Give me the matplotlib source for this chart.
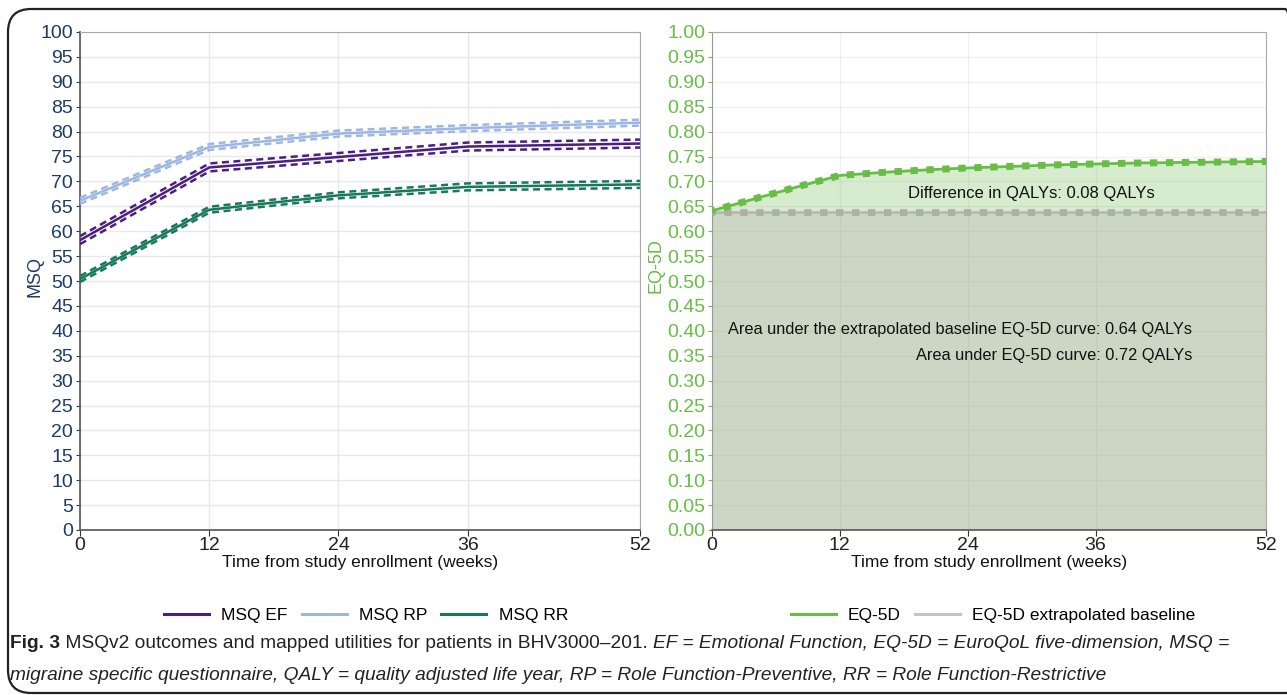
import matplotlib
matplotlib.use("Agg")
import matplotlib.pyplot as plt
from matplotlib.patches import FancyBboxPatch
from matplotlib.lines import Line2D

plt.rcParams['font.family'] = ['Liberation Sans', 'DejaVu Sans']

# MSQ data (weeks)
weeks = [0, 12, 24, 36, 52]
ef_mean = [58.2, 72.8, 74.9, 77.0, 77.6]
ef_hi = [59.0, 73.6, 75.7, 77.8, 78.4]
ef_lo = [57.4, 72.0, 74.1, 76.2, 76.8]
rp_mean = [66.1, 76.9, 79.6, 80.7, 81.8]
rp_hi = [66.7, 77.5, 80.2, 81.3, 82.4]
rp_lo = [65.5, 76.3, 79.0, 80.1, 81.2]
rr_mean = [50.4, 64.3, 67.2, 68.9, 69.4]
rr_hi = [51.0, 64.9, 67.8, 69.6, 70.1]
rr_lo = [49.8, 63.7, 66.6, 68.2, 68.7]

# EQ-5D data
eq_weeks = [0, 4, 8, 12, 16, 20, 24, 28, 32, 36, 40, 44, 48, 52]
eq_vals = [0.641, 0.665, 0.689, 0.712, 0.718, 0.723, 0.727, 0.730, 0.733,
           0.735, 0.737, 0.738, 0.739, 0.740]
baseline = 0.639

c_ef = "#4a1f80"
c_rp = "#9db7e4"
c_rr = "#17785a"
c_eq = "#67bd45"
c_base = "#c4c4c4"
navy = "#1f3a68"

fig = plt.figure(figsize=(12.87, 6.95), dpi=100)

# rounded frame
frame = FancyBboxPatch((8 / 1287, 2 / 695), 1300 / 1287, 684 / 695,
                       boxstyle="round,pad=0,rounding_size=0.018",
                       transform=fig.transFigure, fill=False,
                       edgecolor="#222222", linewidth=1.6,
                       mutation_aspect=1287 / 695)
fig.patches.append(frame)

ax1 = fig.add_axes([80 / 1287, 165 / 695, 560 / 1287, 498 / 695])
ax2 = fig.add_axes([712 / 1287, 165 / 695, 554 / 1287, 498 / 695])

for ax in (ax1, ax2):
    ax.set_xlim(0, 52)
    ax.set_xticks(weeks)
    ax.grid(True, color="#e8e8e8", linewidth=1.0)
    ax.set_axisbelow('line')
    ax.tick_params(axis='x', labelsize=14, colors="#333333", length=4,
                   labelcolor="#222222", pad=1)
    ax.tick_params(axis='y', labelsize=14, length=3, pad=2)
    ax.set_xlabel("Time from study enrollment (weeks)", fontsize=12.5,
                  color="#111111", labelpad=1)
    for s in ('top', 'right'):
        ax.spines[s].set_color("#aaaaaa")
    ax.spines['bottom'].set_color("#555555")
    ax.spines['bottom'].set_linewidth(1.2)

# left panel
ax1.set_ylim(0, 100)
ax1.set_yticks(range(0, 101, 5))
ax1.tick_params(axis='y', colors=navy, labelcolor=navy)
ax1.spines['left'].set_color("#555555")
ax1.spines['left'].set_linewidth(1.2)
ax1.set_ylabel("MSQ", fontsize=13, color=navy)
ax1.yaxis.set_label_coords(-0.066, 0.51)

dash = (0, (2.8, 1.8))
for mean, hi, lo, c in ((ef_mean, ef_hi, ef_lo, c_ef),
                        (rp_mean, rp_hi, rp_lo, c_rp),
                        (rr_mean, rr_hi, rr_lo, c_rr)):
    ax1.plot(weeks, mean, color=c, lw=1.8, zorder=3)
    ax1.plot(weeks, hi, color=c, lw=1.8, ls=dash, zorder=3)
    ax1.plot(weeks, lo, color=c, lw=1.8, ls=dash, zorder=3)

# right panel
ax2.set_ylim(0, 1)
ax2.set_yticks([i / 20 for i in range(21)])
ax2.set_yticklabels([f"{i / 20:.2f}" for i in range(21)])
ax2.tick_params(axis='y', colors=c_eq, labelcolor=c_eq)
ax2.spines['left'].set_color("#999999")
ax2.set_ylabel("EQ-5D", fontsize=13, color=c_eq)
ax2.yaxis.set_label_coords(-0.086, 0.53)

base_vals = [baseline] * len(eq_weeks)
ax2.fill_between(eq_weeks, base_vals, eq_vals, color="#d7ecce", lw=0, zorder=0.5)
ax2.fill_between(eq_weeks, 0, base_vals, color="#cbd7c4", lw=0, zorder=0.5)
ax2.grid(True, color="#8a9a80", alpha=0.12, linewidth=1.0)

ax2.plot(eq_weeks, base_vals, color="#b4bcad", lw=2, zorder=3)
ax2.plot(eq_weeks, base_vals, color="#aab2a4", lw=5, ls=(0.6, (1.05, 1.25)),
         zorder=3)
ax2.plot(eq_weeks, eq_vals, color=c_eq, lw=2, zorder=4)
ax2.plot(eq_weeks, eq_vals, color=c_eq, lw=5, ls=(0.6, (1.05, 1.25)), zorder=4)

ax2.text(30, 0.675, "Difference in QALYs: 0.08 QALYs", ha='center',
         va='center', fontsize=12, color="#111111")
ax2.text(45.05, 0.402, "Area under the extrapolated baseline EQ-5D curve: 0.64 QALYs",
         ha='right', va='center', fontsize=11.8, color="#111111")
ax2.text(45.05, 0.351, "Area under EQ-5D curve: 0.72 QALYs",
         ha='right', va='center', fontsize=11.8, color="#111111")

# legends
h1 = [Line2D([], [], color=c, lw=2.2) for c in (c_ef, c_rp, c_rr)]
fig.legend(h1, ["MSQ EF", "MSQ RP", "MSQ RR"], loc='center',
           bbox_to_anchor=(366 / 1287, 1 - 615 / 695), ncol=3, frameon=False,
           fontsize=12.5, handlelength=2.6, columnspacing=0.8, handletextpad=0.7)
h2 = [Line2D([], [], color=c, lw=2.2) for c in (c_eq, c_base)]
fig.legend(h2, ["EQ-5D", "EQ-5D extrapolated baseline"], loc='center',
           bbox_to_anchor=(993 / 1287, 1 - 615 / 695), ncol=2, frameon=False,
           fontsize=12.5, handlelength=2.6, columnspacing=0.8, handletextpad=0.7)

# caption with mixed styles
cap_font = ['Liberation Sans', 'DejaVu Sans']
fig.canvas.draw()
renderer = fig.canvas.get_renderer()

line1 = [("Fig. 3", 'bold', 'normal'),
         (" MSQv2 outcomes and mapped utilities for patients in BHV3000\u2013201. ",
          'normal', 'normal'),
         ("EF = Emotional Function, EQ-5D = EuroQoL five-dimension, MSQ =",
          'normal', 'italic')]
line2 = [("migraine specific questionnaire, QALY = quality adjusted life year, "
          "RP = Role Function-Preventive, RR = Role Function-Restrictive",
          'normal', 'italic')]


def write_line(parts, x_px, y_px, size):
    x = x_px
    for txt, weight, style in parts:
        t = fig.text(x / 1287, 1 - y_px / 695, txt, fontsize=size,
                     fontweight=weight, fontstyle=style, family=cap_font,
                     va='center', ha='left', color="#222222")
        bb = t.get_window_extent(renderer=renderer)
        x += bb.width
    return x


# measure first line, then fit it to the caption width
probe = []
w = 0
for txt, weight, style in line1:
    t = fig.text(0, 0, txt, fontsize=14, fontweight=weight, fontstyle=style,
                 family=cap_font)
    w += t.get_window_extent(renderer=renderer).width
    probe.append(t)
for t in probe:
    t.remove()
cap_size = 14 * 1226 / w

write_line(line1, 10, 644, cap_size)
write_line(line2, 10, 676, cap_size)

fig.savefig("out.png", dpi=100)
